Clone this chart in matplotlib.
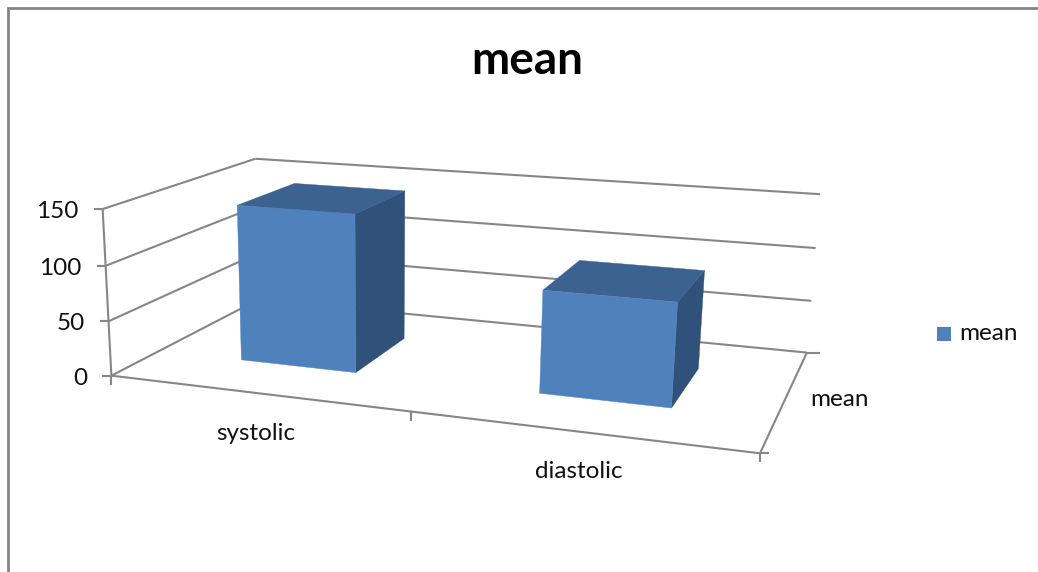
import numpy as np
import matplotlib
matplotlib.use("Agg")
import matplotlib.pyplot as plt
from matplotlib.patches import Polygon, Rectangle

plt.rcParams['font.family'] = ['Lato', 'DejaVu Sans']

# data
categories = ["systolic", "diastolic"]
values = [144, 91]
series_name = "mean"
value_ticks = [0, 50, 100, 150]
chart_title = "mean"

W, H = 1038, 572
fig = plt.figure(figsize=(W / 100, H / 100), dpi=100)
ax = fig.add_axes([0, 0, 1, 1])
ax.set_xlim(0, W)
ax.set_ylim(H, 0)
ax.axis("off")

# camera calibration: plot box corners (x 0-1, depth 0-1, value) -> picture
world = [(0, 0, 0), (0, 0, 150), (0, 1, 0), (0, 1, 150), (1, 1, 0), (1, 1, 150), (1, 0, 0)]
image = [(112, 376), (102, 209), (258, 299), (256, 159), (807, 353), (820, 194), (760, 453)]
A = []
for (X, Y, Z), (u, v) in zip(world, image):
    Z = Z / 150
    A.append([X, Y, Z, 1, 0, 0, 0, 0, -u * X, -u * Y, -u * Z, -u])
    A.append([0, 0, 0, 0, X, Y, Z, 1, -v * X, -v * Y, -v * Z, -v])
P = np.linalg.svd(np.array(A, float))[2][-1].reshape(3, 4)


def proj(x, d, z):
    h = P @ np.array([x, d, z / 150, 1.0])
    return h[0] / h[2], h[1] / h[2]


LINE = "#868686"
LW = 1.5
TXT = "#111111"
FS = 17.5


def seg(a, b, lw=LW, color=LINE):
    ax.plot([a[0], b[0]], [a[1], b[1]], color=color, lw=lw, solid_capstyle="butt", zorder=2)


# chart frame
ax.plot([7.5, 7.5, W], [H, 8, 8], color=LINE, lw=2.0, solid_joinstyle="miter", zorder=1)

# gridlines on walls
for t in value_ticks:
    seg(proj(0, 0, t), proj(0, 1, t))
    seg(proj(0, 1, t), proj(1, 1, t))
    p = proj(0, 0, t)
    seg(p, (p[0] - 9, p[1]))
    ax.text(p[0] - 24, p[1] + 2.5, str(t), ha="right", va="center", fontsize=FS, color=TXT)
    q = proj(1, 1, t)
    seg(q, (q[0] + (13 if t == 0 else 0), q[1]))

# axes on floor
seg(proj(0, 0, 0), proj(1, 0, 0))
seg(proj(1, 0, 0), proj(1, 1, 0))
seg(proj(0, 0, 0), proj(0, 0, 150))
n = len(categories)
for i in range(n + 1):
    p = proj(i / n, 0, 0)
    seg(p, (p[0], p[1] + 9))
p = proj(1, 0, 0)
seg(p, (p[0] + 9, p[1]))

# bars
FRONT, TOP, SIDE = "#4F81BD", "#3C6290", "#30517A"
half_w = 0.1
d0, d1 = 0.29, 0.70
for i, v in enumerate(values):
    cx = (i + 0.5) / n
    x0, x1 = cx - half_w, cx + half_w
    front = [proj(x0, d0, 0), proj(x1, d0, 0), proj(x1, d0, v), proj(x0, d0, v)]
    top = [proj(x0, d0, v), proj(x1, d0, v), proj(x1, d1, v), proj(x0, d1, v)]
    side = [proj(x1, d0, 0), proj(x1, d1, 0), proj(x1, d1, v), proj(x1, d0, v)]
    for pts, c in ((side, SIDE), (top, TOP), (front, FRONT)):
        ax.add_patch(Polygon(pts, closed=True, facecolor=c, edgecolor=c, lw=0.3, zorder=3))

# labels
ax.text(256, 434, categories[0], ha="center", va="center", fontsize=FS, color=TXT)
ax.text(579, 472, categories[1], ha="center", va="center", fontsize=FS, color=TXT)
ax.text(840, 400, series_name, ha="center", va="center", fontsize=FS, color=TXT)
ax.text(527, 61, chart_title, ha="center", va="center", fontsize=33, fontweight="bold", color="black")

# legend
ax.add_patch(Rectangle((937, 327), 14, 14, facecolor=FRONT, edgecolor="none"))
ax.text(959, 334, series_name, ha="left", va="center", fontsize=FS, color=TXT)

fig.savefig("out.png", dpi=100)
